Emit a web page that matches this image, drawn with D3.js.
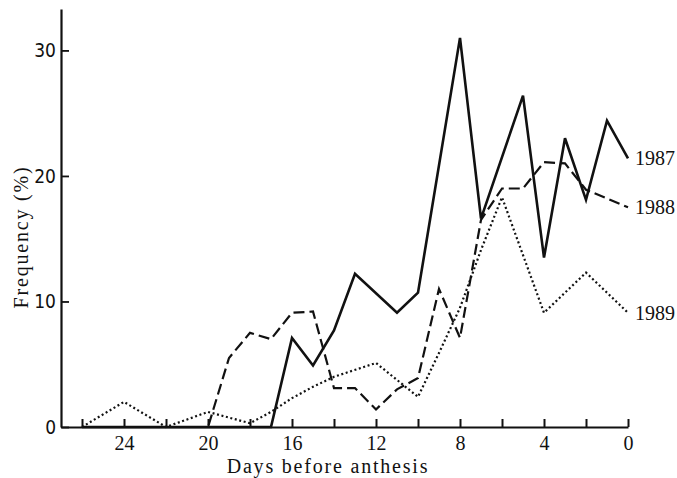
<!DOCTYPE html>
<html>
<head>
<meta charset="utf-8">
<script src="https://cdn.jsdelivr.net/npm/d3@7/dist/d3.min.js"></script>
<style>
  html, body {
    margin: 0;
    padding: 0;
    background: #fff;
  }
  svg text {
    fill: #111;
  }
  .line {
    fill: none;
    stroke: #111;
    stroke-linejoin: miter;
  }
</style>
</head>
<body>
<svg id="svg" width="677" height="478"></svg>
<script>
(function() {
  'use strict';

  // days before anthesis at each vertex, and frequency (%) per year
  var days1987 = [26, 17, 16, 15, 14, 13, 11, 10, 8, 7, 5, 4, 3, 2, 1, 0];
  var freq1987 = [0, 0, 7.1, 4.9, 7.7, 12.2, 9.1, 10.7, 31, 16.6, 26.4, 13.5, 23.0, 18.1, 24.4, 21.4];

  var days1988 = [26, 20, 19, 18, 17, 16, 15, 14, 13, 12, 11, 10, 9, 8, 7, 6, 5, 4, 3, 2, 0];
  var freq1988 = [0, 0, 5.5, 7.5, 7.0, 9.1, 9.2, 3.1, 3.1, 1.4, 3.0, 3.9, 11.0, 7.1, 16.5, 19.0, 19.0, 21.1, 21.0, 18.9, 17.5];

  var days1989 = [26, 24, 22, 20, 18, 17, 16, 15, 14, 12, 10, 9, 8, 7, 6, 4, 2, 0];
  var freq1989 = [0, 2.0, 0, 1.2, 0.3, 1.2, 2.3, 3.2, 4.0, 5.1, 2.4, 5.9, 9.5, 14.1, 18.3, 9.1, 12.3, 9.1];

  var years = ['1987', '1988', '1989'];
  var xTicks = [26, 24, 22, 20, 18, 16, 14, 12, 10, 8, 6, 4, 2, 0];
  var xLabels = [24, 20, 16, 12, 8, 4, 0];
  var yTicks = [0, 10, 20, 30];

  var series = [
    {name: years[0], days: days1987, freq: freq1987, width: 2.6, dash: null},
    {name: years[1], days: days1988, freq: freq1988, width: 2.2, dash: '11,5'},
    {name: years[2], days: days1989, freq: freq1989, width: 2.2, dash: '2,2.6'}
  ];

  var x = d3.scaleLinear().domain([27, 0]).range([61, 628]);
  var y = d3.scaleLinear().domain([0, 33.3]).range([427, 9]);

  var svg = d3.select('#svg');
  var serif = '"Liberation Serif", "DejaVu Serif", serif';

  var line = d3.line()
    .x(function(d) { return x(d[0]); })
    .y(function(d) { return y(d[1]); });

  series.forEach(function(s) {
    var pts = d3.zip(s.days, s.freq);
    svg.append('path')
      .attr('class', 'line')
      .attr('d', line(pts))
      .attr('stroke-width', s.width)
      .attr('stroke-dasharray', s.dash);

    // year label at the right end of each line
    var last = pts[pts.length - 1];
    svg.append('text')
      .attr('x', x(last[0]) + 7)
      .attr('y', y(last[1]) + 7)
      .style('font-family', serif)
      .style('font-size', '20px')
      .text(s.name);
  });

  // x axis, ticks pointing up into the plot (drawn on top of the lines)
  var xAxis = d3.axisBottom(x)
    .tickValues(xTicks)
    .tickSizeInner(-8)
    .tickSizeOuter(0)
    .tickFormat(function(d) {
      return xLabels.indexOf(d) >= 0 ? d : '';
    });

  var gx = svg.append('g')
    .attr('transform', 'translate(0,' + y(0) + ')')
    .call(xAxis);
  gx.select('.domain').attr('stroke', '#111').attr('stroke-width', 2.2);
  gx.selectAll('.tick line').attr('stroke', '#111').attr('stroke-width', 2);
  gx.selectAll('.tick text')
    .attr('y', 9)
    .attr('dy', '0.71em')
    .style('font-family', serif)
    .style('font-size', '20px');

  // y axis, ticks pointing right
  var yAxis = d3.axisLeft(y)
    .tickValues(yTicks)
    .tickSizeInner(-8)
    .tickSizeOuter(0)
    .tickPadding(5);

  var gy = svg.append('g')
    .attr('transform', 'translate(' + x(27) + ',0)')
    .call(yAxis);
  gy.select('.domain').attr('stroke', '#111').attr('stroke-width', 2.2);
  gy.selectAll('.tick line').attr('stroke', '#111').attr('stroke-width', 1.8);
  gy.selectAll('.tick text')
    .attr('x', -5)
    .style('font-family', '"Liberation Sans Narrow", "DejaVu Sans Condensed", sans-serif')
    .style('font-size', '19px');

  // axis titles
  svg.append('text')
    .attr('x', 328)
    .attr('y', 473)
    .attr('text-anchor', 'middle')
    .style('font-family', serif)
    .style('font-size', '20px')
    .style('letter-spacing', '1.8px')
    .text('Days before anthesis');

  svg.append('text')
    .attr('transform', 'translate(28,237) rotate(-90)')
    .attr('text-anchor', 'middle')
    .style('font-family', serif)
    .style('font-size', '20px')
    .style('letter-spacing', '1.8px')
    .text('Frequency (%)');
})();
</script>
</body>
</html>
